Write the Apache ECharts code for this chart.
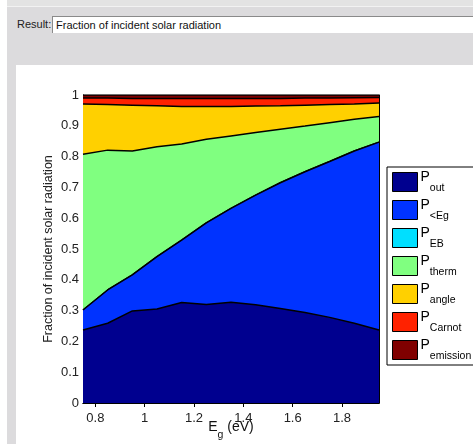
<!DOCTYPE html>
<html>
<head>
<meta charset="UTF-8">
<title>Fraction of incident solar radiation</title>
<script src="https://cdn.jsdelivr.net/npm/echarts@6/dist/echarts.min.js"></script>
<style>
  body { margin: 0; width: 473px; height: 444px; position: relative; overflow: hidden; background: #fff;
         font-family: "Liberation Sans", Arial, sans-serif; }
  #panel { position: absolute; left: 7px; top: 0; width: 466px; height: 444px; background: #dcdbdd; }
  #strip { position: absolute; left: 7px; top: 0; width: 466px; height: 6px; background: #e3e3e3; border-bottom: 1px solid #f2f2f2; }
  #lbl { position: absolute; left: 17px; top: 18px; font-size: 11px; color: #222; }
  #box { position: absolute; left: 52px; top: 16px; width: 430px; height: 16px; background: #fff;
         border-top: 1px solid #8a8a8a; border-left: 1px solid #8a8a8a; font-size: 11px; color: #111;
         line-height: 16px; padding-left: 3px; }
  #content { position: absolute; left: 16px; top: 65px; width: 457px; height: 379px; background: #fff; }
  #main { position: absolute; left: 0; top: 0; width: 473px; height: 444px; }
</style>
</head>
<body>
<div id="panel"></div>
<div id="strip"></div>
<div id="lbl">Result:</div>
<div id="box">Fraction of incident solar radiation</div>
<div id="content"></div>
<div id="main"></div>
<script>
// band gap (eV)
var eg = [0.75, 0.85, 0.95, 1.05, 1.15, 1.25, 1.35, 1.45, 1.55, 1.65, 1.75, 1.85, 1.95];

// fractions of incident radiation, from the bottom of the stack up
var pOut      = [0.237, 0.259, 0.299, 0.305, 0.326, 0.320, 0.327, 0.319, 0.307, 0.294, 0.278, 0.259, 0.237];
var pBelowEg  = [0.065, 0.108, 0.117, 0.170, 0.203, 0.265, 0.305, 0.356, 0.408, 0.457, 0.506, 0.559, 0.610];
var pEB       = [0.000, 0.000, 0.000, 0.000, 0.000, 0.000, 0.000, 0.000, 0.000, 0.000, 0.000, 0.000, 0.000];
var pTherm    = [0.506, 0.454, 0.402, 0.357, 0.312, 0.271, 0.235, 0.203, 0.174, 0.148, 0.126, 0.103, 0.083];
var pAngle    = [0.163, 0.148, 0.149, 0.133, 0.122, 0.107, 0.096, 0.086, 0.076, 0.068, 0.059, 0.050, 0.044];
var pCarnot   = [0.019, 0.021, 0.022, 0.024, 0.026, 0.026, 0.026, 0.025, 0.024, 0.023, 0.021, 0.020, 0.018];
var pEmission = [0.010, 0.010, 0.011, 0.011, 0.011, 0.011, 0.011, 0.011, 0.011, 0.010, 0.010, 0.009, 0.008];

var names  = ['out', '<Eg', 'EB', 'therm', 'angle', 'Carnot', 'emission'];
var values = [pOut, pBelowEg, pEB, pTherm, pAngle, pCarnot, pEmission];
var colors = ['#00008f', '#0033ff', '#00dfff', '#80ff80', '#ffd000', '#ff2200', '#800000'];

var xTickValues = [0.8, 1, 1.2, 1.4, 1.6, 1.8];

var font = 'Liberation Sans';
var chart = echarts.init(document.getElementById('main'));

// running totals; each band is filled from 0 and the lower bands paint over it
var running = eg.map(function () { return 0; });
var series = names.map(function (n, i) {
    running = running.map(function (s, j) { return s + values[i][j]; });
    var tops = running.slice();
    return {
        name: n,
        type: 'line',
        symbol: 'none',
        color: colors[i],
        lineStyle: { color: '#000', width: 1.5 },
        areaStyle: { color: colors[i], opacity: 1, origin: 'start' },
        data: eg.map(function (x, j) { return [x, tops[j]]; })
    };
});
series.reverse();
series.forEach(function (s, k) { s.z = 10 + k; });

var xCommon = {
    type: 'value', min: 0.75, max: 1.95,
    axisLine: { lineStyle: { color: '#000', width: 1 } },
    splitLine: { show: false }
};

chart.setOption({
    animation: false,
    backgroundColor: 'transparent',
    textStyle: { fontFamily: font },
    grid: { left: 83, right: 94, top: 95, bottom: 41, containLabel: false, outerBoundsMode: 'none' },
    legend: {
        orient: 'vertical',
        left: 387, top: 167,
        itemWidth: 25, itemHeight: 19, itemGap: 4,
        padding: [3, 4, 3, 5],
        borderColor: '#000', borderWidth: 1,
        backgroundColor: '#fff',
        itemStyle: { borderColor: '#000', borderWidth: 1 },
        data: names.map(function (n) { return { name: n, icon: 'rect' }; }),
        formatter: function (n) { return '{p|P}{s|' + n + '}'; },
        textStyle: {
            padding: [0, 0, 0, -2],
            rich: {
                p: { fontSize: 14, color: '#000', fontFamily: font, lineHeight: 24, verticalAlign: 'top' },
                s: { fontSize: 10.5, color: '#000', fontFamily: font, lineHeight: 24, verticalAlign: 'bottom' }
            }
        }
    },
    xAxis: [
        Object.assign({}, xCommon, {
            position: 'bottom',
            name: '{e|E}{g|g}{e| (eV)}',
            nameLocation: 'middle', nameGap: 17, nameMoveOverlap: false,
            nameTextStyle: {
                rich: {
                    e: { fontSize: 14, color: '#111', fontFamily: font, lineHeight: 21, verticalAlign: 'top' },
                    g: { fontSize: 10.5, color: '#111', fontFamily: font, lineHeight: 21, verticalAlign: 'bottom' }
                }
            },
            axisTick: { inside: true, length: 4, customValues: xTickValues, lineStyle: { color: '#000' } },
            axisLabel: { customValues: xTickValues, fontSize: 13, color: '#222', margin: 9,
                         formatter: function (v) { return String(v); } }
        }),
        Object.assign({}, xCommon, {
            position: 'top',
            axisTick: { inside: true, length: 4, customValues: xTickValues, lineStyle: { color: '#000' } },
            axisLabel: { show: false }
        })
    ],
    yAxis: [
        {
            type: 'value', min: 0, max: 1, interval: 0.1,
            name: 'Fraction of incident solar radiation',
            nameLocation: 'middle', nameGap: 28, nameMoveOverlap: false,
            nameTextStyle: { fontSize: 12.5, color: '#222' },
            axisLine: { show: true, lineStyle: { color: '#000' } },
            axisTick: { show: true, inside: true, length: 4, lineStyle: { color: '#000' } },
            axisLabel: { fontSize: 13, color: '#222', margin: 4 },
            splitLine: { show: false }
        },
        {
            type: 'value', min: 0, max: 1, interval: 0.1, position: 'right',
            axisLine: { show: true, lineStyle: { color: '#000' } },
            axisTick: { show: true, inside: true, length: 4, lineStyle: { color: '#000' } },
            axisLabel: { show: false },
            splitLine: { show: false }
        }
    ],
    series: series
});
</script>
</body>
</html>
